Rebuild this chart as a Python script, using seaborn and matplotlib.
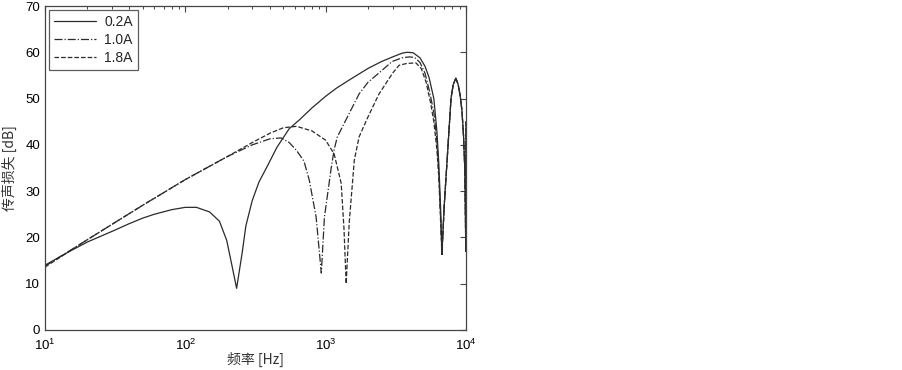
import numpy as np
import pandas as pd
import seaborn as sns
import matplotlib
matplotlib.use("Agg")
import matplotlib.pyplot as plt
from matplotlib.ticker import LogLocator, MultipleLocator

# --- data ---
# common high-frequency tail (after the ~6.7 kHz dip) shared by all three curves
f_tail = [7000, 7310, 7820, 8100, 8470, 8800, 9100, 9350, 9600, 9800, 9900, 9970, 10000]
tl_tail = [27, 36, 50, 53, 54.4, 53, 50.5, 47.5, 42, 35, 25, 17, 45]

f_02 = [10, 15, 20, 30, 40, 50, 60, 80, 100, 120, 149, 175, 197, 216, 232, 255, 270, 300, 335,
        378, 450, 550, 650, 800, 1000, 1200, 1470, 2000, 2500, 3000, 3500, 3800, 4200, 4700,
        5100, 5450, 5900, 6200, 6400, 6600, 6740] + f_tail
tl_02 = [14, 17, 19, 21.3, 23, 24.2, 25, 26, 26.5, 26.5, 25.5, 23.5, 19.4, 13.6, 9, 17, 22.5, 28,
         32, 35, 39.5, 43.5, 45.4, 48, 50.5, 52.3, 54, 56.5, 58, 59, 59.8, 60, 59.9, 58.8,
         57, 54.6, 50, 43, 36, 26, 17] + tl_tail

f_10 = [10, 20, 50, 100, 200, 300, 400, 480, 550, 620, 700, 764, 855, 931, 980, 1095, 1150,
        1210, 1400, 1730, 2000, 2500, 2970, 3500, 3930, 4300, 4700, 5100, 5500, 5900, 6200,
        6400, 6600, 6740] + f_tail
tl_10 = [13.8, 19.5, 27, 32.5, 37.5, 40, 41.3, 41.5, 40.5, 38.8, 36.5, 32.4, 24.4, 12.3, 24.4,
         35, 39, 41.7, 45.5, 51, 53.5, 56, 58, 58.8, 59, 58.9, 57.8, 55.5, 51.5, 47, 41,
         34, 24, 16.5] + tl_tail

f_18 = [10, 20, 50, 100, 200, 300, 400, 500, 620, 800, 1000, 1150, 1290, 1350, 1400, 1470,
        1600, 1730, 2000, 2400, 3000, 3340, 3800, 4400, 4800, 5200, 5600, 5900, 6200, 6400,
        6600, 6740] + f_tail
tl_18 = [13.6, 19.5, 27, 32.5, 37.5, 40.5, 42.5, 43.7, 44, 43, 41, 38, 31.7, 22, 10, 23,
         36.7, 41.7, 46, 51, 55.5, 57.2, 57.6, 57.7, 56.5, 53.5, 49, 45, 39, 33,
         23, 16] + tl_tail

labels = ["0.2A", "1.0A", "1.8A"]

df = pd.concat([
    pd.DataFrame({"f": f_02, "tl": tl_02, "s": labels[0]}),
    pd.DataFrame({"f": f_10, "tl": tl_10, "s": labels[1]}),
    pd.DataFrame({"f": f_18, "tl": tl_18, "s": labels[2]}),
])

sns.set_theme(style="white")
plt.rcParams['font.family'] = ['Liberation Sans', 'Noto Sans CJK SC', 'DejaVu Sans']

fig = plt.figure(figsize=(9.03, 3.70), dpi=100)
ax = fig.add_axes([45 / 903, 1 - 330 / 370, (466 - 45) / 903, (330 - 6) / 370])

styles = {"0.2A": "-", "1.0A": "-.", "1.8A": "--"}
for lab in labels:
    sub = df[df.s == lab]
    sns.lineplot(data=sub, x="f", y="tl", ax=ax, color="#2a2a2a", linewidth=0.9,
                 linestyle=styles[lab], label=lab, sort=False, estimator=None)

ax.set_xscale("log")
ax.set_xlim(10, 10000)
ax.set_ylim(0, 70)
ax.yaxis.set_major_locator(MultipleLocator(10))
ax.xaxis.set_major_locator(LogLocator(base=10, numticks=10))
ax.xaxis.set_minor_locator(LogLocator(base=10, subs=np.arange(2, 10), numticks=30))

for sp in ax.spines.values():
    sp.set_color("#444444")
    sp.set_linewidth(0.9)

ax.tick_params(axis="both", which="both", direction="in", top=True, right=True,
               colors="#444444", labelcolor="black", labelsize=9.5)
ax.tick_params(axis="both", which="major", length=4, width=0.8)
ax.tick_params(axis="x", which="minor", length=2.5, width=0.7)
ax.tick_params(axis="x", which="major", pad=5.5)

ax.set_xlabel("频率 [Hz]", fontsize=10, color="#333333", labelpad=-1,
              family=['Noto Sans CJK SC', 'DejaVu Sans'])
ax.set_ylabel("传声损失 [dB]", fontsize=10, color="#333333", labelpad=6,
              family=['Noto Sans CJK SC', 'DejaVu Sans'])

leg = ax.legend(loc="upper left", fontsize=10, frameon=True, fancybox=False,
                edgecolor="#333333", handlelength=3.0, borderpad=0.35, labelspacing=0.3,
                borderaxespad=0.3, handletextpad=0.6)
leg.get_frame().set_linewidth(0.9)

fig.savefig("out.png", dpi=100)
